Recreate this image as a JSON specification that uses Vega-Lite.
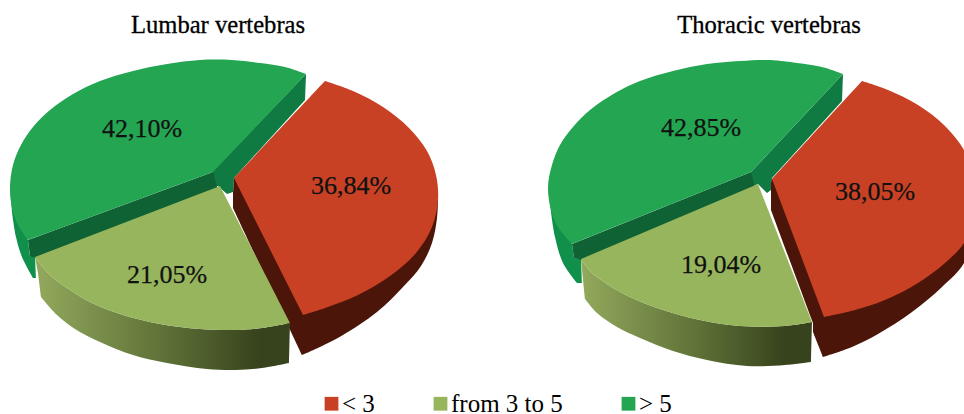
{
"$schema":"https://vega.github.io/schema/vega-lite/v6.json",
"description":"Two tilted, exploded pies of share by category for lumbar and thoracic vertebras. A repeated outline row marks a sharp corner in the smoothed paths.",
"width":964,"height":414,"padding":0,"autosize":{"type":"fit","contains":"padding"},
"background":"white","view":{"stroke":null},
"config":{"font":"Liberation Serif"},
"datasets":{
"faces":[
{"pie":"L","category":"> 5","part":"outer","i":0,"x":10,"y":185},{"pie":"L","category":"> 5","part":"outer","i":0,"x":10,"y":185},{"pie":"L","category":"> 5","part":"outer","i":1,"x":28,"y":240},{"pie":"L","category":"> 5","part":"outer","i":1,"x":28,"y":240},{"pie":"L","category":"> 5","part":"outer","i":2,"x":30,"y":256},{"pie":"L","category":"> 5","part":"outer","i":2,"x":30,"y":256},{"pie":"L","category":"> 5","part":"outer","i":3,"x":35,"y":256},{"pie":"L","category":"> 5","part":"outer","i":3,"x":35,"y":256},{"pie":"L","category":"> 5","part":"outer","i":4,"x":36,"y":278},{"pie":"L","category":"> 5","part":"outer","i":4,"x":36,"y":278},{"pie":"L","category":"> 5","part":"outer","i":5,"x":33,"y":278},{"pie":"L","category":"> 5","part":"outer","i":5,"x":33,"y":278},{"pie":"L","category":"> 5","part":"outer","i":6,"x":22,"y":257},{"pie":"L","category":"> 5","part":"outer","i":7,"x":16,"y":237},{"pie":"L","category":"> 5","part":"outer","i":8,"x":12,"y":212},
{"pie":"T","category":"> 5","part":"outer","i":0,"x":548,"y":185},{"pie":"T","category":"> 5","part":"outer","i":0,"x":548,"y":185},{"pie":"T","category":"> 5","part":"outer","i":1,"x":572,"y":244},{"pie":"T","category":"> 5","part":"outer","i":1,"x":572,"y":244},{"pie":"T","category":"> 5","part":"outer","i":2,"x":574,"y":258},{"pie":"T","category":"> 5","part":"outer","i":2,"x":574,"y":258},{"pie":"T","category":"> 5","part":"outer","i":3,"x":581,"y":259},{"pie":"T","category":"> 5","part":"outer","i":3,"x":581,"y":259},{"pie":"T","category":"> 5","part":"outer","i":4,"x":582,"y":283},{"pie":"T","category":"> 5","part":"outer","i":4,"x":582,"y":283},{"pie":"T","category":"> 5","part":"outer","i":5,"x":577,"y":283},{"pie":"T","category":"> 5","part":"outer","i":5,"x":577,"y":283},{"pie":"T","category":"> 5","part":"outer","i":6,"x":563,"y":263},{"pie":"T","category":"> 5","part":"outer","i":7,"x":555,"y":237},{"pie":"T","category":"> 5","part":"outer","i":8,"x":551,"y":212},

{"pie":"L","category":"> 5","part":"front","i":0,"x":213,"y":172},{"pie":"L","category":"> 5","part":"front","i":1,"x":28,"y":240},{"pie":"L","category":"> 5","part":"front","i":2,"x":30,"y":256},{"pie":"L","category":"> 5","part":"front","i":3,"x":36,"y":258},{"pie":"L","category":"> 5","part":"front","i":4,"x":218,"y":190},
{"pie":"T","category":"> 5","part":"front","i":0,"x":751,"y":172},{"pie":"T","category":"> 5","part":"front","i":1,"x":572,"y":244},{"pie":"T","category":"> 5","part":"front","i":2,"x":574,"y":258},{"pie":"T","category":"> 5","part":"front","i":3,"x":582,"y":260},{"pie":"T","category":"> 5","part":"front","i":4,"x":755,"y":188},

{"pie":"L","category":"> 5","part":"inner","i":0,"x":212,"y":172},{"pie":"L","category":"> 5","part":"inner","i":1,"x":306,"y":74},{"pie":"L","category":"> 5","part":"inner","i":2,"x":305,"y":100},{"pie":"L","category":"> 5","part":"inner","i":3,"x":234,"y":178},{"pie":"L","category":"> 5","part":"inner","i":4,"x":233,"y":192},{"pie":"L","category":"> 5","part":"inner","i":5,"x":227,"y":194},{"pie":"L","category":"> 5","part":"inner","i":6,"x":218,"y":186},{"pie":"L","category":"> 5","part":"inner","i":7,"x":213,"y":187},
{"pie":"T","category":"> 5","part":"inner","i":0,"x":751,"y":172},{"pie":"T","category":"> 5","part":"inner","i":1,"x":843,"y":74},{"pie":"T","category":"> 5","part":"inner","i":2,"x":842,"y":101},{"pie":"T","category":"> 5","part":"inner","i":3,"x":772,"y":178},{"pie":"T","category":"> 5","part":"inner","i":4,"x":771,"y":190},{"pie":"T","category":"> 5","part":"inner","i":5,"x":767,"y":193},{"pie":"T","category":"> 5","part":"inner","i":6,"x":758,"y":184},{"pie":"T","category":"> 5","part":"inner","i":7,"x":751,"y":187},

{"pie":"L","category":"< 3","part":"wall","i":0,"x":234,"y":178},{"pie":"L","category":"< 3","part":"wall","i":0,"x":234,"y":178},{"pie":"L","category":"< 3","part":"wall","i":1,"x":438,"y":200},{"pie":"L","category":"< 3","part":"wall","i":1,"x":438,"y":200},{"pie":"L","category":"< 3","part":"wall","i":2,"x":437,"y":218},{"pie":"L","category":"< 3","part":"wall","i":3,"x":432,"y":243},{"pie":"L","category":"< 3","part":"wall","i":4,"x":421,"y":266},{"pie":"L","category":"< 3","part":"wall","i":5,"x":403,"y":287},{"pie":"L","category":"< 3","part":"wall","i":6,"x":377,"y":312},{"pie":"L","category":"< 3","part":"wall","i":7,"x":343,"y":335},{"pie":"L","category":"< 3","part":"wall","i":8,"x":320,"y":347},{"pie":"L","category":"< 3","part":"wall","i":9,"x":302,"y":355},{"pie":"L","category":"< 3","part":"wall","i":9,"x":302,"y":355},{"pie":"L","category":"< 3","part":"wall","i":10,"x":233,"y":208},{"pie":"L","category":"< 3","part":"wall","i":10,"x":233,"y":208},{"pie":"L","category":"< 3","part":"wall","i":11,"x":233,"y":193},{"pie":"L","category":"< 3","part":"wall","i":11,"x":233,"y":193},
{"pie":"T","category":"< 3","part":"wall","i":0,"x":772,"y":179},{"pie":"T","category":"< 3","part":"wall","i":0,"x":772,"y":179},{"pie":"T","category":"< 3","part":"wall","i":1,"x":977,"y":195},{"pie":"T","category":"< 3","part":"wall","i":1,"x":977,"y":195},{"pie":"T","category":"< 3","part":"wall","i":2,"x":976,"y":225},{"pie":"T","category":"< 3","part":"wall","i":3,"x":964,"y":263},{"pie":"T","category":"< 3","part":"wall","i":4,"x":942,"y":287},{"pie":"T","category":"< 3","part":"wall","i":5,"x":912,"y":312},{"pie":"T","category":"< 3","part":"wall","i":6,"x":878,"y":334},{"pie":"T","category":"< 3","part":"wall","i":7,"x":852,"y":347},{"pie":"T","category":"< 3","part":"wall","i":8,"x":823,"y":357},{"pie":"T","category":"< 3","part":"wall","i":8,"x":823,"y":357},{"pie":"T","category":"< 3","part":"wall","i":9,"x":813,"y":332},{"pie":"T","category":"< 3","part":"wall","i":9,"x":813,"y":332},{"pie":"T","category":"< 3","part":"wall","i":10,"x":813,"y":323},{"pie":"T","category":"< 3","part":"wall","i":10,"x":813,"y":323},{"pie":"T","category":"< 3","part":"wall","i":11,"x":771,"y":210},{"pie":"T","category":"< 3","part":"wall","i":11,"x":771,"y":210},{"pie":"T","category":"< 3","part":"wall","i":12,"x":771,"y":183},{"pie":"T","category":"< 3","part":"wall","i":12,"x":771,"y":183},

{"pie":"L","category":"from 3 to 5","part":"rim","i":0,"x":35,"y":257},{"pie":"L","category":"from 3 to 5","part":"rim","i":0,"x":35,"y":257},{"pie":"L","category":"from 3 to 5","part":"rim","i":1,"x":50,"y":275},{"pie":"L","category":"from 3 to 5","part":"rim","i":2,"x":67,"y":288},{"pie":"L","category":"from 3 to 5","part":"rim","i":3,"x":90,"y":302},{"pie":"L","category":"from 3 to 5","part":"rim","i":4,"x":120,"y":314},{"pie":"L","category":"from 3 to 5","part":"rim","i":5,"x":160,"y":324},{"pie":"L","category":"from 3 to 5","part":"rim","i":6,"x":200,"y":329},{"pie":"L","category":"from 3 to 5","part":"rim","i":7,"x":235,"y":330},{"pie":"L","category":"from 3 to 5","part":"rim","i":8,"x":262,"y":328},{"pie":"L","category":"from 3 to 5","part":"rim","i":9,"x":290,"y":323},{"pie":"L","category":"from 3 to 5","part":"rim","i":9,"x":290,"y":323},{"pie":"L","category":"from 3 to 5","part":"rim","i":10,"x":289,"y":363},{"pie":"L","category":"from 3 to 5","part":"rim","i":10,"x":289,"y":363},{"pie":"L","category":"from 3 to 5","part":"rim","i":11,"x":262,"y":368},{"pie":"L","category":"from 3 to 5","part":"rim","i":12,"x":236,"y":370},{"pie":"L","category":"from 3 to 5","part":"rim","i":13,"x":207,"y":369},{"pie":"L","category":"from 3 to 5","part":"rim","i":14,"x":167,"y":363},{"pie":"L","category":"from 3 to 5","part":"rim","i":15,"x":133,"y":355},{"pie":"L","category":"from 3 to 5","part":"rim","i":16,"x":100,"y":342},{"pie":"L","category":"from 3 to 5","part":"rim","i":17,"x":75,"y":329},{"pie":"L","category":"from 3 to 5","part":"rim","i":18,"x":57,"y":315},{"pie":"L","category":"from 3 to 5","part":"rim","i":19,"x":41,"y":297},{"pie":"L","category":"from 3 to 5","part":"rim","i":19,"x":41,"y":297},{"pie":"L","category":"from 3 to 5","part":"rim","i":20,"x":38,"y":273},{"pie":"L","category":"from 3 to 5","part":"rim","i":20,"x":38,"y":273},
{"pie":"T","category":"from 3 to 5","part":"rim","i":0,"x":581,"y":259},{"pie":"T","category":"from 3 to 5","part":"rim","i":0,"x":581,"y":259},{"pie":"T","category":"from 3 to 5","part":"rim","i":1,"x":590,"y":271},{"pie":"T","category":"from 3 to 5","part":"rim","i":2,"x":607,"y":284},{"pie":"T","category":"from 3 to 5","part":"rim","i":3,"x":630,"y":297},{"pie":"T","category":"from 3 to 5","part":"rim","i":4,"x":660,"y":309},{"pie":"T","category":"from 3 to 5","part":"rim","i":5,"x":700,"y":320},{"pie":"T","category":"from 3 to 5","part":"rim","i":6,"x":740,"y":326},{"pie":"T","category":"from 3 to 5","part":"rim","i":7,"x":785,"y":326},{"pie":"T","category":"from 3 to 5","part":"rim","i":8,"x":812,"y":322},{"pie":"T","category":"from 3 to 5","part":"rim","i":8,"x":812,"y":322},{"pie":"T","category":"from 3 to 5","part":"rim","i":9,"x":811,"y":362},{"pie":"T","category":"from 3 to 5","part":"rim","i":9,"x":811,"y":362},{"pie":"T","category":"from 3 to 5","part":"rim","i":10,"x":785,"y":365},{"pie":"T","category":"from 3 to 5","part":"rim","i":11,"x":747,"y":366},{"pie":"T","category":"from 3 to 5","part":"rim","i":12,"x":707,"y":360},{"pie":"T","category":"from 3 to 5","part":"rim","i":13,"x":673,"y":351},{"pie":"T","category":"from 3 to 5","part":"rim","i":14,"x":640,"y":338},{"pie":"T","category":"from 3 to 5","part":"rim","i":15,"x":617,"y":327},{"pie":"T","category":"from 3 to 5","part":"rim","i":16,"x":597,"y":313},{"pie":"T","category":"from 3 to 5","part":"rim","i":17,"x":585,"y":299},{"pie":"T","category":"from 3 to 5","part":"rim","i":17,"x":585,"y":299},{"pie":"T","category":"from 3 to 5","part":"rim","i":18,"x":583,"y":280},{"pie":"T","category":"from 3 to 5","part":"rim","i":18,"x":583,"y":280},

{"pie":"L","category":"> 5","part":"top","i":0,"x":213,"y":172},{"pie":"L","category":"> 5","part":"top","i":0,"x":213,"y":172},{"pie":"L","category":"> 5","part":"top","i":1,"x":28,"y":240},{"pie":"L","category":"> 5","part":"top","i":1,"x":28,"y":240},{"pie":"L","category":"> 5","part":"top","i":2,"x":18,"y":225},{"pie":"L","category":"> 5","part":"top","i":3,"x":12,"y":208},{"pie":"L","category":"> 5","part":"top","i":4,"x":10,"y":187},{"pie":"L","category":"> 5","part":"top","i":5,"x":13,"y":165},{"pie":"L","category":"> 5","part":"top","i":6,"x":21,"y":145},{"pie":"L","category":"> 5","part":"top","i":7,"x":33,"y":127},{"pie":"L","category":"> 5","part":"top","i":8,"x":50,"y":110},{"pie":"L","category":"> 5","part":"top","i":9,"x":73,"y":94},{"pie":"L","category":"> 5","part":"top","i":10,"x":100,"y":81},{"pie":"L","category":"> 5","part":"top","i":11,"x":133,"y":71},{"pie":"L","category":"> 5","part":"top","i":12,"x":167,"y":64},{"pie":"L","category":"> 5","part":"top","i":13,"x":200,"y":60},{"pie":"L","category":"> 5","part":"top","i":14,"x":232,"y":60},{"pie":"L","category":"> 5","part":"top","i":15,"x":260,"y":63},{"pie":"L","category":"> 5","part":"top","i":16,"x":285,"y":67},{"pie":"L","category":"> 5","part":"top","i":17,"x":306,"y":74},{"pie":"L","category":"> 5","part":"top","i":17,"x":306,"y":74},
{"pie":"T","category":"> 5","part":"top","i":0,"x":751,"y":172},{"pie":"T","category":"> 5","part":"top","i":0,"x":751,"y":172},{"pie":"T","category":"> 5","part":"top","i":1,"x":572,"y":244},{"pie":"T","category":"> 5","part":"top","i":1,"x":572,"y":244},{"pie":"T","category":"> 5","part":"top","i":2,"x":558,"y":227},{"pie":"T","category":"> 5","part":"top","i":3,"x":551,"y":210},{"pie":"T","category":"> 5","part":"top","i":4,"x":548,"y":187},{"pie":"T","category":"> 5","part":"top","i":5,"x":552,"y":165},{"pie":"T","category":"> 5","part":"top","i":6,"x":560,"y":145},{"pie":"T","category":"> 5","part":"top","i":7,"x":573,"y":127},{"pie":"T","category":"> 5","part":"top","i":8,"x":590,"y":110},{"pie":"T","category":"> 5","part":"top","i":9,"x":615,"y":93},{"pie":"T","category":"> 5","part":"top","i":10,"x":640,"y":81},{"pie":"T","category":"> 5","part":"top","i":11,"x":673,"y":71},{"pie":"T","category":"> 5","part":"top","i":12,"x":707,"y":64},{"pie":"T","category":"> 5","part":"top","i":13,"x":740,"y":61},{"pie":"T","category":"> 5","part":"top","i":14,"x":770,"y":60},{"pie":"T","category":"> 5","part":"top","i":15,"x":797,"y":63},{"pie":"T","category":"> 5","part":"top","i":16,"x":822,"y":67},{"pie":"T","category":"> 5","part":"top","i":17,"x":843,"y":74},{"pie":"T","category":"> 5","part":"top","i":17,"x":843,"y":74},

{"pie":"L","category":"< 3","part":"top","i":0,"x":234,"y":178},{"pie":"L","category":"< 3","part":"top","i":0,"x":234,"y":178},{"pie":"L","category":"< 3","part":"top","i":1,"x":325,"y":81},{"pie":"L","category":"< 3","part":"top","i":1,"x":325,"y":81},{"pie":"L","category":"< 3","part":"top","i":2,"x":353,"y":91},{"pie":"L","category":"< 3","part":"top","i":3,"x":383,"y":107},{"pie":"L","category":"< 3","part":"top","i":4,"x":409,"y":128},{"pie":"L","category":"< 3","part":"top","i":5,"x":427,"y":151},{"pie":"L","category":"< 3","part":"top","i":6,"x":436,"y":175},{"pie":"L","category":"< 3","part":"top","i":7,"x":438,"y":200},{"pie":"L","category":"< 3","part":"top","i":8,"x":432,"y":227},{"pie":"L","category":"< 3","part":"top","i":9,"x":416,"y":253},{"pie":"L","category":"< 3","part":"top","i":10,"x":390,"y":276},{"pie":"L","category":"< 3","part":"top","i":11,"x":358,"y":295},{"pie":"L","category":"< 3","part":"top","i":12,"x":328,"y":307},{"pie":"L","category":"< 3","part":"top","i":13,"x":303,"y":315},{"pie":"L","category":"< 3","part":"top","i":13,"x":303,"y":315},
{"pie":"T","category":"< 3","part":"top","i":0,"x":772,"y":179},{"pie":"T","category":"< 3","part":"top","i":0,"x":772,"y":179},{"pie":"T","category":"< 3","part":"top","i":1,"x":862,"y":81},{"pie":"T","category":"< 3","part":"top","i":1,"x":862,"y":81},{"pie":"T","category":"< 3","part":"top","i":2,"x":888,"y":90},{"pie":"T","category":"< 3","part":"top","i":3,"x":918,"y":105},{"pie":"T","category":"< 3","part":"top","i":4,"x":945,"y":126},{"pie":"T","category":"< 3","part":"top","i":5,"x":964,"y":150},{"pie":"T","category":"< 3","part":"top","i":6,"x":973,"y":172},{"pie":"T","category":"< 3","part":"top","i":7,"x":977,"y":195},{"pie":"T","category":"< 3","part":"top","i":8,"x":974,"y":218},{"pie":"T","category":"< 3","part":"top","i":9,"x":964,"y":243},{"pie":"T","category":"< 3","part":"top","i":10,"x":945,"y":263},{"pie":"T","category":"< 3","part":"top","i":11,"x":918,"y":283},{"pie":"T","category":"< 3","part":"top","i":12,"x":885,"y":300},{"pie":"T","category":"< 3","part":"top","i":13,"x":855,"y":310},{"pie":"T","category":"< 3","part":"top","i":14,"x":824,"y":317},{"pie":"T","category":"< 3","part":"top","i":14,"x":824,"y":317},

{"pie":"L","category":"from 3 to 5","part":"top","i":0,"x":220,"y":186},{"pie":"L","category":"from 3 to 5","part":"top","i":0,"x":220,"y":186},{"pie":"L","category":"from 3 to 5","part":"top","i":1,"x":290,"y":323},{"pie":"L","category":"from 3 to 5","part":"top","i":1,"x":290,"y":323},{"pie":"L","category":"from 3 to 5","part":"top","i":2,"x":262,"y":328},{"pie":"L","category":"from 3 to 5","part":"top","i":3,"x":235,"y":330},{"pie":"L","category":"from 3 to 5","part":"top","i":4,"x":200,"y":329},{"pie":"L","category":"from 3 to 5","part":"top","i":5,"x":160,"y":324},{"pie":"L","category":"from 3 to 5","part":"top","i":6,"x":120,"y":314},{"pie":"L","category":"from 3 to 5","part":"top","i":7,"x":90,"y":302},{"pie":"L","category":"from 3 to 5","part":"top","i":8,"x":67,"y":288},{"pie":"L","category":"from 3 to 5","part":"top","i":9,"x":50,"y":275},{"pie":"L","category":"from 3 to 5","part":"top","i":10,"x":35,"y":257},{"pie":"L","category":"from 3 to 5","part":"top","i":10,"x":35,"y":257},
{"pie":"T","category":"from 3 to 5","part":"top","i":0,"x":758,"y":184},{"pie":"T","category":"from 3 to 5","part":"top","i":0,"x":758,"y":184},{"pie":"T","category":"from 3 to 5","part":"top","i":1,"x":812,"y":322},{"pie":"T","category":"from 3 to 5","part":"top","i":1,"x":812,"y":322},{"pie":"T","category":"from 3 to 5","part":"top","i":2,"x":785,"y":326},{"pie":"T","category":"from 3 to 5","part":"top","i":3,"x":740,"y":326},{"pie":"T","category":"from 3 to 5","part":"top","i":4,"x":700,"y":320},{"pie":"T","category":"from 3 to 5","part":"top","i":5,"x":660,"y":309},{"pie":"T","category":"from 3 to 5","part":"top","i":6,"x":630,"y":297},{"pie":"T","category":"from 3 to 5","part":"top","i":7,"x":607,"y":284},{"pie":"T","category":"from 3 to 5","part":"top","i":8,"x":590,"y":271},{"pie":"T","category":"from 3 to 5","part":"top","i":9,"x":581,"y":259},{"pie":"T","category":"from 3 to 5","part":"top","i":9,"x":581,"y":259}
],
"shares":[
{"pie":"Lumbar vertebras","category":"< 3","value":36.84,"label":"36,84%","x":351,"y":194},
{"pie":"Lumbar vertebras","category":"from 3 to 5","value":21.05,"label":"21,05%","x":167,"y":283},
{"pie":"Lumbar vertebras","category":"> 5","value":42.10,"label":"42,10%","x":142,"y":137},
{"pie":"Thoracic vertebras","category":"< 3","value":38.05,"label":"38,05%","x":875,"y":200},
{"pie":"Thoracic vertebras","category":"from 3 to 5","value":19.04,"label":"19,04%","x":721,"y":273},
{"pie":"Thoracic vertebras","category":"> 5","value":42.85,"label":"42,85%","x":701,"y":136}
],
"headers":[
{"label":"Lumbar vertebras","x":218,"y":33},
{"label":"Thoracic vertebras","x":769,"y":33}
]
},
"encoding":{
"x":{"field":"x","type":"quantitative","axis":null,"scale":{"domain":[0,964],"nice":false,"zero":false}},
"y":{"field":"y","type":"quantitative","axis":null,"scale":{"domain":[0,414],"nice":false,"zero":false,"reverse":true}}
},
"layer":[
{"data":{"name":"faces"},"transform":[{"filter":"datum.part==='outer'"}],
 "mark":{"type":"line","clip":true,"strokeWidth":0,"interpolate":"catmull-rom","fill":"#10904b"},
 "encoding":{"detail":{"field":"pie"},"order":{"field":"i","type":"quantitative"}}},
{"data":{"name":"faces"},"transform":[{"filter":"datum.part==='inner'"}],
 "mark":{"type":"line","clip":true,"strokeWidth":0,"fill":"#0f7a42"},
 "encoding":{"detail":{"field":"pie"},"order":{"field":"i","type":"quantitative"}}},
{"data":{"name":"faces"},"transform":[{"filter":"datum.part==='front'"}],
 "mark":{"type":"line","clip":true,"strokeWidth":0,"fill":"#0f6234"},
 "encoding":{"detail":{"field":"pie"},"order":{"field":"i","type":"quantitative"}}},
{"data":{"name":"faces"},"transform":[{"filter":"datum.part==='wall'"}],
 "mark":{"type":"line","clip":true,"strokeWidth":0,"interpolate":"catmull-rom","fill":"#4c1509"},
 "encoding":{"detail":{"field":"pie"},"order":{"field":"i","type":"quantitative"}}},
{"data":{"name":"faces"},"transform":[{"filter":"datum.part==='rim'"}],
 "mark":{"type":"line","clip":true,"strokeWidth":0,"interpolate":"catmull-rom",
   "fill":{"gradient":"linear","x1":0,"y1":0,"x2":1,"y2":0,"stops":[{"offset":0,"color":"#93a95c"},{"offset":0.5,"color":"#5f7238"},{"offset":0.88,"color":"#37431c"},{"offset":1,"color":"#37431c"}]}},
 "encoding":{"detail":{"field":"pie"},"order":{"field":"i","type":"quantitative"}}},
{"data":{"name":"faces"},"transform":[{"filter":"datum.part==='top'"}],
 "mark":{"type":"line","clip":true,"strokeWidth":0,"interpolate":"catmull-rom"},
 "encoding":{
   "detail":{"field":"pie"},
   "order":{"field":"i","type":"quantitative"},
   "fill":{"field":"category","type":"nominal",
     "scale":{"domain":["< 3","from 3 to 5","> 5"],"range":["#c94125","#97b55c","#24a551"]},
     "legend":{"orient":"none","legendX":319,"legendY":391,"direction":"horizontal","columns":3,"title":null,
       "symbolType":"square","symbolSize":190,"symbolStrokeWidth":0,"labelFont":"Liberation Serif","labelFontSize":25,"labelColor":"#000000","labelOffset":-2,"columnPadding":53,"padding":0}}}},
{"data":{"name":"shares"},
 "mark":{"type":"text","font":"Liberation Serif","fontSize":26,"color":"#111111","stroke":"#111111","strokeWidth":0.25,"align":"center","baseline":"alphabetic"},
 "encoding":{"text":{"field":"label"}}},
{"data":{"name":"headers"},
 "mark":{"type":"text","font":"Liberation Serif","fontSize":24.6,"color":"#000000","stroke":"#000000","strokeWidth":0.3,"align":"center","baseline":"alphabetic"},
 "encoding":{"text":{"field":"label"}}}
]
}
